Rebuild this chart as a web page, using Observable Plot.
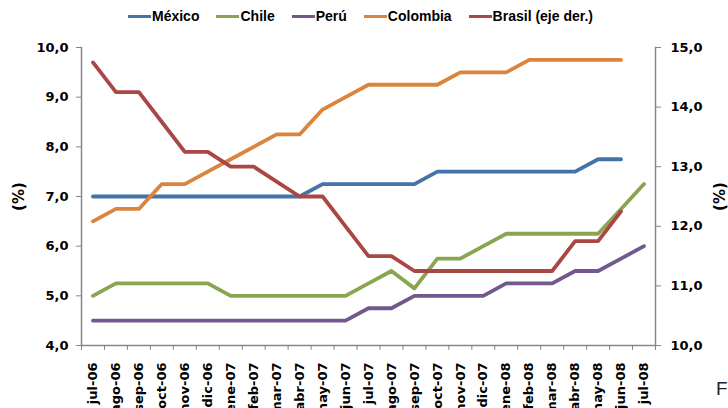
<!DOCTYPE html>
<html>
<head>
<meta charset="utf-8">
<script src="https://cdn.jsdelivr.net/npm/d3@7"></script>
<script src="https://cdn.jsdelivr.net/npm/@observablehq/plot@0.6"></script>
<style>
  html, body { margin: 0; padding: 0; background: #fff; }
  #wrap { position: relative; width: 728px; height: 408px; overflow: hidden; }
  #legend { position: absolute; top: 8px; left: 128px; display: flex; gap: 17px;
            font: bold 14px "Liberation Sans", Arial, sans-serif; color: #000; white-space: nowrap; }
  #legend .item { display: flex; align-items: center; gap: 1px; }
  #legend .sw { width: 23px; height: 3px; display: inline-block; }
  #foot { position: absolute; left: 716px; top: 378px; font: 19px "Liberation Sans", Arial, sans-serif; color: #222; }
</style>
</head>
<body>
<div id="wrap">
  <div id="chart"></div>
  <div id="legend"></div>
  <div id="foot">F</div>
</div>
<script>
const months = ["jul-06","ago-06","sep-06","oct-06","nov-06","dic-06","ene-07","feb-07","mar-07","abr-07","may-07","jun-07","jul-07","ago-07","sep-07","oct-07","nov-07","dic-07","ene-08","feb-08","mar-08","abr-08","may-08","jun-08","jul-08"];
const mexico   = [7,7,7,7,7,7,7,7,7,7,7.25,7.25,7.25,7.25,7.25,7.5,7.5,7.5,7.5,7.5,7.5,7.5,7.75,7.75,null];
const chile    = [5,5.25,5.25,5.25,5.25,5.25,5,5,5,5,5,5,5.25,5.5,5.15,5.75,5.75,6,6.25,6.25,6.25,6.25,6.25,6.75,7.25];
const peru     = [4.5,4.5,4.5,4.5,4.5,4.5,4.5,4.5,4.5,4.5,4.5,4.5,4.75,4.75,5,5,5,5,5.25,5.25,5.25,5.5,5.5,5.75,6];
const colombia = [6.5,6.75,6.75,7.25,7.25,7.5,7.75,8,8.25,8.25,8.75,9,9.25,9.25,9.25,9.25,9.5,9.5,9.5,9.75,9.75,9.75,9.75,9.75,null];
const brasil   = [14.75,14.25,14.25,13.75,13.25,13.25,13,13,12.75,12.5,12.5,12,11.5,11.5,11.25,11.25,11.25,11.25,11.25,11.25,11.25,11.75,11.75,12.25,null];
const seriesNames = ["México","Chile","Perú","Colombia","Brasil (eje der.)"];
const seriesColors = ["#4572A7","#89A54E","#71588F","#DB843D","#AA4643"];
const leftTicks = [4,5,6,7,8,9,10];
const rightTicks = [10,11,12,13,14,15];
const leftDomain = [4,10];
const rightDomain = [10,15];
const axisTitle = "(%)";

// map right-axis values onto the left scale
const toLeft = v => leftDomain[0] + (v - rightDomain[0]) * (leftDomain[1]-leftDomain[0]) / (rightDomain[1]-rightDomain[0]);
const toRight = v => rightDomain[0] + (v - leftDomain[0]) * (rightDomain[1]-rightDomain[0]) / (leftDomain[1]-leftDomain[0]);
const fmt = v => (Math.round(v*10)/10).toFixed(1).replace(".", ",");

const raw = [mexico, chile, peru, colombia, brasil];
const rows = [];
raw.forEach((arr, k) => arr.forEach((v, i) => {
  if (v != null) rows.push({i, s: seriesNames[k], v: k === 4 ? toLeft(v) : v});
}));

const grey = "#868686";
const chart = Plot.plot({
  width: 728, height: 408,
  marginLeft: 81, marginRight: 73, marginTop: 47, marginBottom: 63,
  style: {fontFamily: "'DejaVu Sans', sans-serif", fontWeight: "bold", fontSize: "13px", color: "#000", background: "#fff"},
  x: {domain: [-0.5, months.length - 0.5]},
  y: {domain: leftDomain},
  color: {domain: seriesNames, range: seriesColors},
  marks: [
    Plot.frame({anchor: "left", stroke: grey, strokeWidth: 1.5}),
    Plot.frame({anchor: "right", stroke: grey, strokeWidth: 1.5}),
    Plot.frame({anchor: "bottom", stroke: grey, strokeWidth: 1.5}),
    Plot.axisY({ticks: leftTicks, tickFormat: fmt, tickSize: 5, tickPadding: 8, stroke: grey, fill: "#000", label: null}),
    Plot.axisY({anchor: "right", ticks: rightTicks.map(toLeft), tickFormat: v => fmt(toRight(v)), tickSize: 5, tickPadding: 10,
                stroke: grey, fill: "#000", label: null}),
    Plot.text([axisTitle], {frameAnchor: "left", textAnchor: "middle", lineAnchor: "middle", dx: -62, rotate: -90, fontSize: 15, fontWeight: "bold", fill: "#000"}),
    Plot.text([axisTitle], {frameAnchor: "right", textAnchor: "middle", lineAnchor: "middle", dx: 65, rotate: -90, fontSize: 15, fontWeight: "bold", fill: "#000"}),
    Plot.axisX({ticks: d3.range(-0.5, months.length, 1), tickFormat: () => "", tickSize: 5, stroke: grey, label: null}),
    Plot.axisX({ticks: d3.range(months.length), tickFormat: i => months[i], tickSize: 0, tickPadding: 17,
                tickRotate: -90, fill: "#000", label: null}),
    Plot.line(rows, {x: "i", y: "v", z: "s", stroke: "s", strokeWidth: 3.8, curve: "linear"})
  ]
});
document.getElementById("chart").appendChild(chart);

const lg = document.getElementById("legend");
seriesNames.forEach((n, k) => {
  const it = document.createElement("div"); it.className = "item";
  const sw = document.createElement("span"); sw.className = "sw"; sw.style.background = seriesColors[k];
  const tx = document.createElement("span"); tx.textContent = n;
  it.appendChild(sw); it.appendChild(tx); lg.appendChild(it);
});
</script>
</body>
</html>
